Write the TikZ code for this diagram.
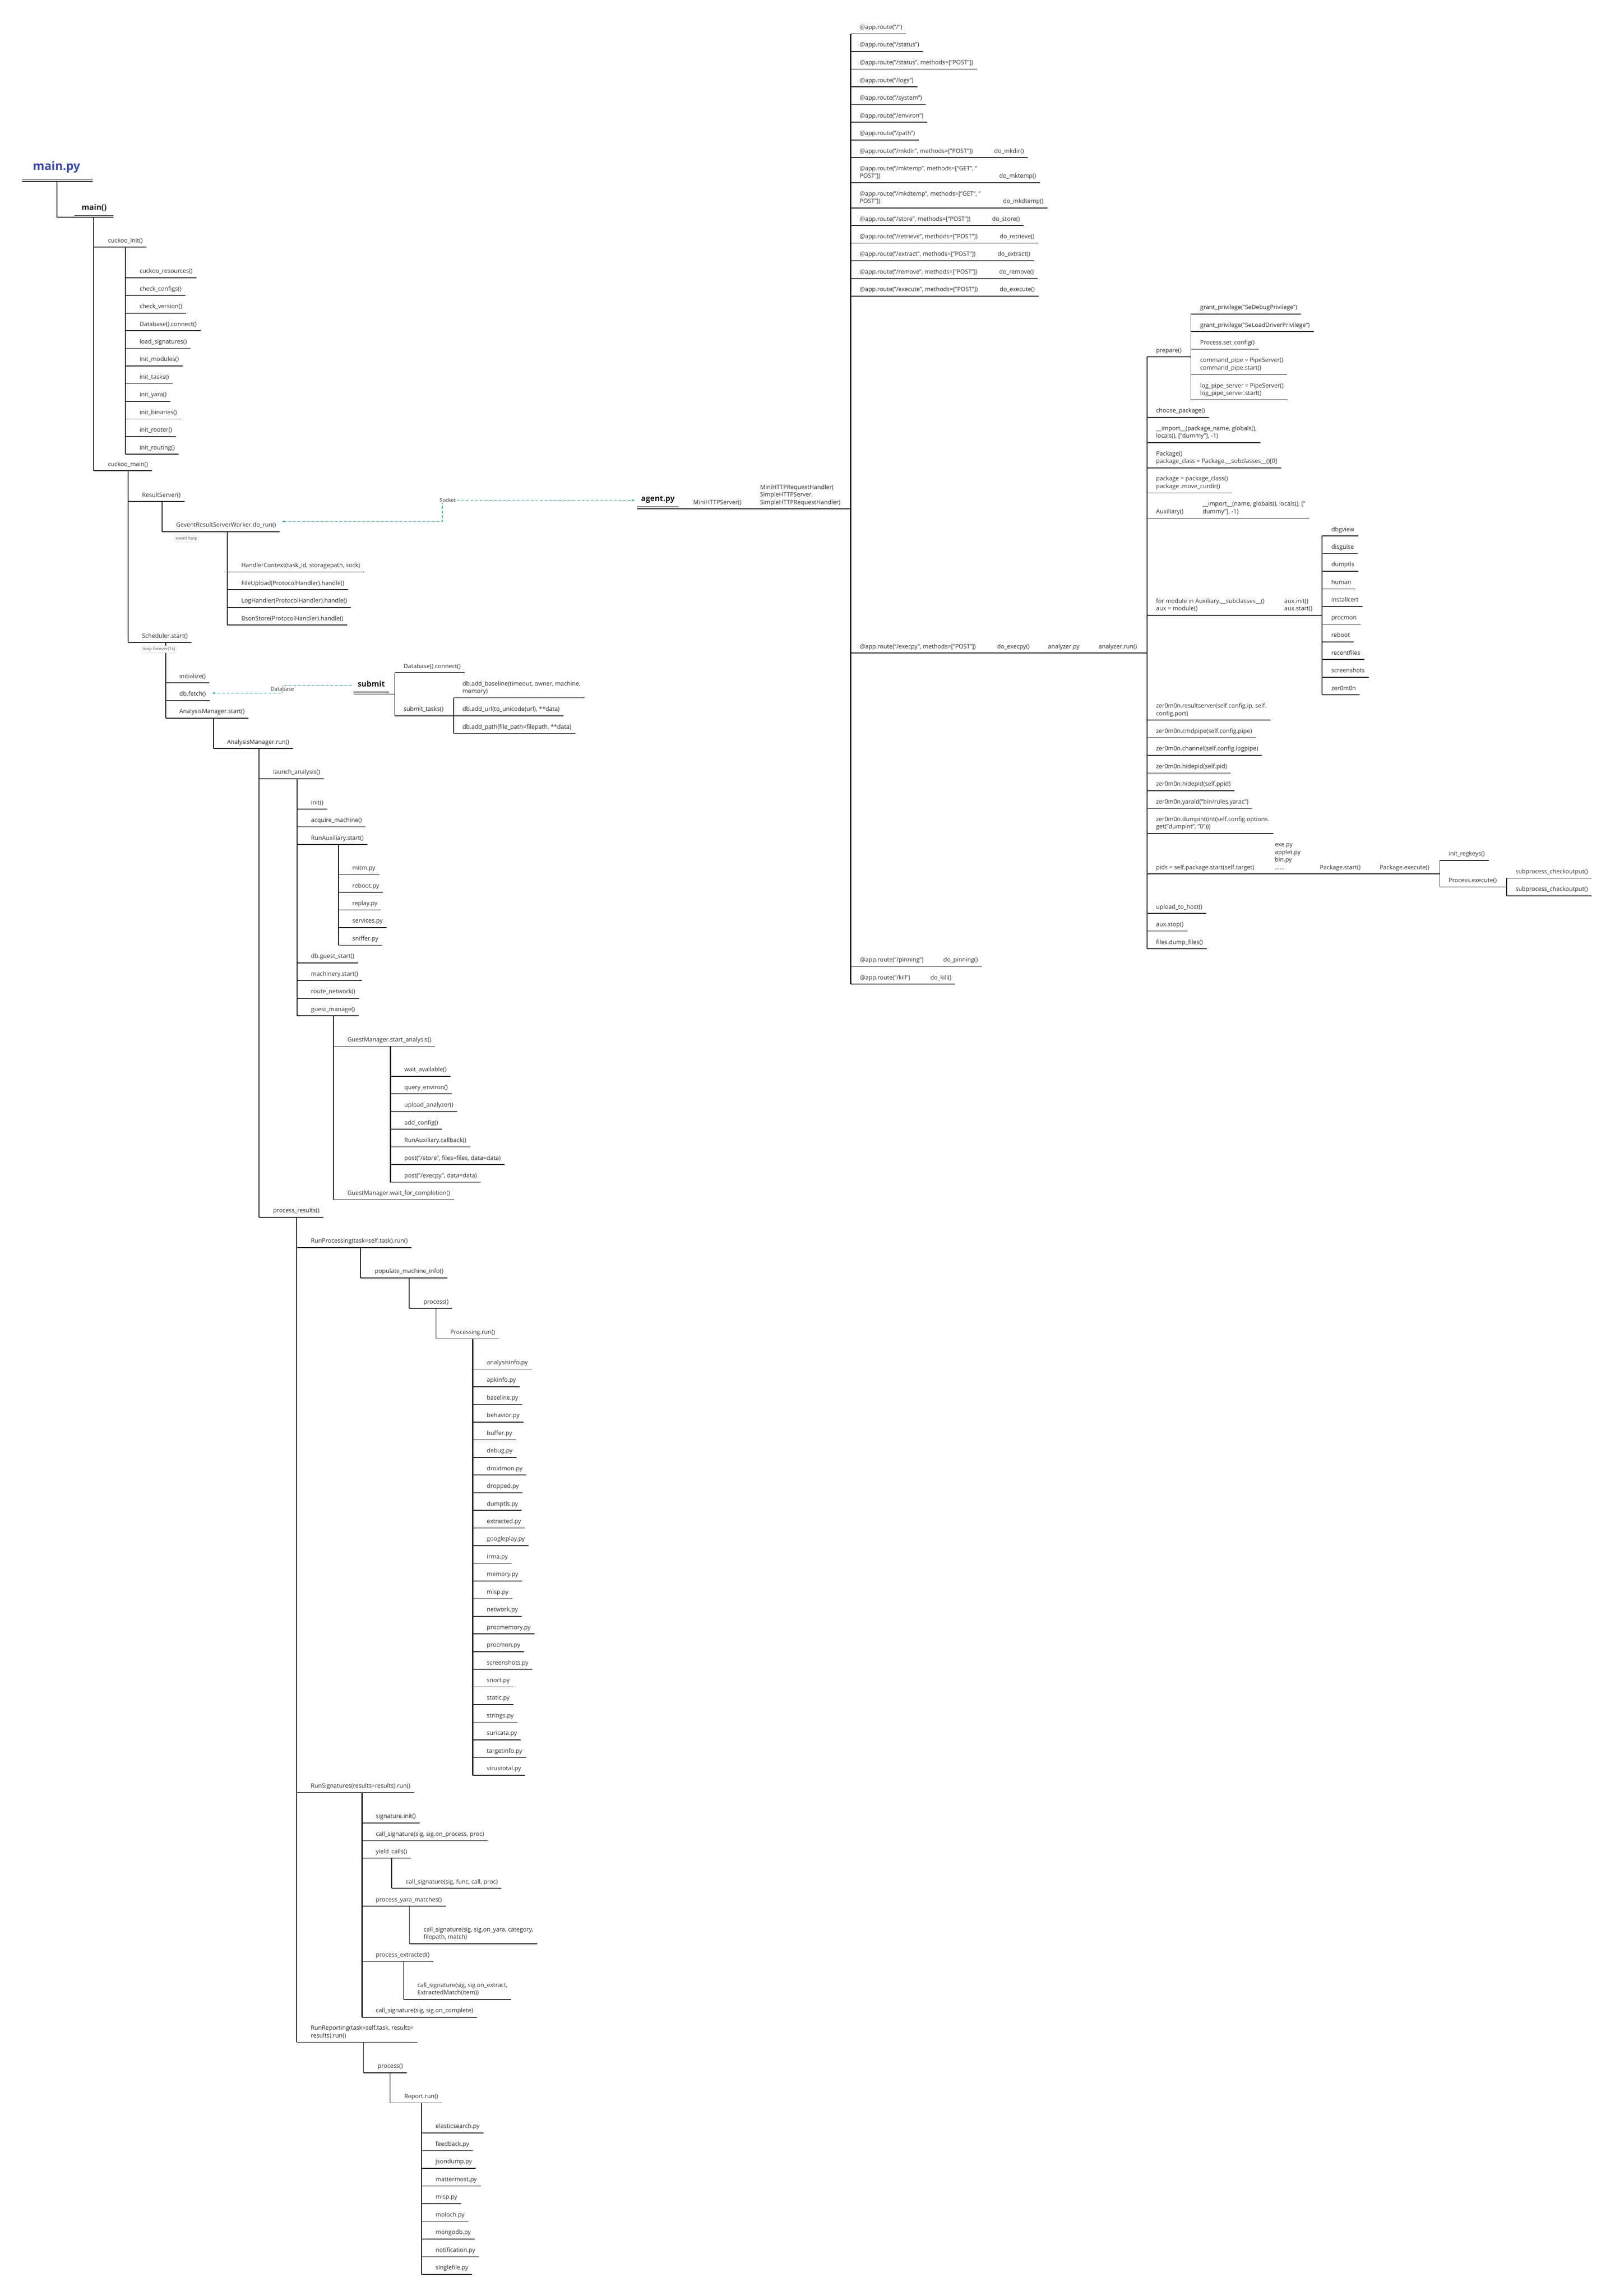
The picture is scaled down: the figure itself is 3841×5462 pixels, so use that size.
\documentclass[tikz,border=0pt]{standalone}
\usepackage{fontspec}
\setmainfont{Open Sans}
\usetikzlibrary{arrows.meta}

\definecolor{linec}{HTML}{1C1C1C}
\definecolor{textc}{HTML}{303030}
\definecolor{titleblue}{HTML}{3D4BAE}
\definecolor{linkc}{HTML}{24A092}
\definecolor{tagc}{HTML}{DADADA}

\tikzset{
  br/.style={draw=linec, line width=1.8pt},
  trunk/.style={draw=linec, line width=2.6pt},
  fn/.style={anchor=base west, inner sep=0pt, align=left, text=textc,
    font=\fontsize{14.2}{18}\selectfont},
  head/.style={anchor=base west, inner sep=0pt, text=linec,
    font=\bfseries\fontsize{18.5}{22}\selectfont},
  tag/.style={draw=tagc, fill=white, line width=0.8pt, rounded corners=4pt,
    inner sep=3pt, text=textc!85, font=\fontsize{10.5}{12}\selectfont},
  link/.style={draw=linkc, line width=1.3pt, dash pattern=on 7pt off 4pt,
    >={Stealth[length=7pt,width=5pt]}},
  linklbl/.style={fill=white, inner sep=1.5pt, text=textc,
    font=\fontsize{12.5}{14}\selectfont},
}

\begin{document}
\begin{tikzpicture}[x=1pt, y=-1pt]
\useasboundingbox (0,0) rectangle (3841,5462);

% ---------------- main.py ----------------
\node[anchor=base west, inner sep=0pt, text=titleblue,
  font=\bfseries\fontsize{28}{32}\selectfont] (mainpy) at (78,405) {main.py};
\draw[br] (52,426.5) -- (221,426.5);
\draw[br] (52,431.5) -- (221,431.5);
\draw[br] (135.5,431.5) |- (270,517);
\node[head] (main) at (194,500) {main()};
\draw[br] (177,513) -- (270,513);
\draw[br] (223,517) -- (223,1120);

% cuckoo_init()
\node[fn] (cinit) at (257,577) {cuckoo\_init()};
\draw[br] (223,588) -- (cinit.east |- 0,588) -- ++(9,0);
\draw[trunk] (298.5,588) -- (298.5,1080.7);
\foreach \t [count=\i from 0] in {cuckoo\_resources(), check\_configs(), check\_version(),
    Database().connect(), load\_signatures(), init\_modules(), init\_tasks(),
    init\_yara(), init\_binaries(), init\_rooter(), init\_routing()} {
  \pgfmathsetmacro\y{660.7+42*\i}
  \node[fn] (ci\i) at (332,\y-11) {\t};
  \draw[br] (298.5,\y) -- (ci\i.east |- 0,\y) -- ++(9,0);
}

% cuckoo_main()
\node[fn] (cmain) at (257,1109) {cuckoo\_main()};
\draw[br] (223,1120) -- (cmain.east |- 0,1120) -- ++(9,0);
\draw[br] (305,1120) -- (305,1528.6);

\node[fn] (rserver) at (337.7,1182) {ResultServer()};
\draw[br] (305,1193) -- (rserver.east |- 0,1193) -- ++(9,0);
\draw[br] (385.4,1193) -- (385.4,1264.7);
\node[fn] (gevent) at (419,1253.7) {GeventResultServerWorker.do\_run()};
\draw[br] (385.4,1264.7) -- (gevent.east |- 0,1264.7) -- ++(9,0);
\node[tag] (evloop) at (444,1281) {event loop};
\draw[br] (540.4,1264.7) -- (540.4,1487);
\foreach \t [count=\i from 0] in {{HandlerContext(task\_id, storagepath, sock)},
    FileUpload(ProtocolHandler).handle(), LogHandler(ProtocolHandler).handle(),
    BsonStore(ProtocolHandler).handle()} {
  \pgfmathsetmacro\y{1360.7+42.1*\i}
  \node[fn] (hd\i) at (574,\y-11) {\t};
  \draw[br] (540.4,\y) -- (hd\i.east |- 0,\y) -- ++(9,0);
}

% Scheduler
\node[fn] (sched) at (337.7,1517.6) {Scheduler.start()};
\draw[br] (305,1528.6) -- (sched.east |- 0,1528.6) -- ++(9,0);
\draw[br] (394,1528.6) -- (394,1708.5);
\node[tag] (loopf) at (378,1544.5) {loop forever(1s)};
\node[fn] (sinit) at (426.6,1613.5) {initialize()};
\draw[br] (394,1624.5) -- (sinit.east |- 0,1624.5) -- ++(9,0);
\node[fn] (dbfetch) at (426.6,1656) {db.fetch()};
\draw[br] (394,1667) -- (dbfetch.east |- 0,1667) -- ++(9,0);
\node[fn] (amstart) at (426.6,1697.5) {AnalysisManager.start()};
\draw[br] (394,1708.5) -- (amstart.east |- 0,1708.5) -- ++(9,0);
\draw[br] (508,1708.5) -- (508,1780.8);
\node[fn] (amrun) at (540,1769.8) {AnalysisManager.run()};
\draw[br] (508,1780.8) -- (amrun.east |- 0,1780.8) -- ++(9,0);
\draw[br] (616.3,1780.8) -- (616.3,2895.8);

% launch_analysis()
\node[fn] (launch) at (649.5,1841.6) {launch\_analysis()};
\draw[br] (616.3,1852.6) -- (launch.east |- 0,1852.6) -- ++(9,0);
\draw[trunk] (706.6,1852.6) -- (706.6,2416.6);
\foreach \t [count=\i from 0] in {init(), acquire\_machine(), RunAuxiliary.start()} {
  \pgfmathsetmacro\y{1925+42*\i}
  \node[fn] (la\i) at (739.8,\y-11) {\t};
  \draw[br] (706.6,\y) -- (la\i.east |- 0,\y) -- ++(9,0);
}
\draw[trunk] (805,2009) -- (805,2248.6);
\foreach \t [count=\i from 0] in {mitm.py, reboot.py, replay.py, services.py, sniffer.py} {
  \pgfmathsetmacro\y{2080.6+42*\i}
  \node[fn] (ax\i) at (838,\y-11) {\t};
  \draw[br] (805,\y) -- (ax\i.east |- 0,\y) -- ++(9,0);
}
\foreach \t [count=\i from 3] in {db.guest\_start(), machinery.start(), route\_network(),
    guest\_manage()} {
  \pgfmathsetmacro\y{2290.4+42.07*(\i-3)}
  \node[fn] (la\i) at (739.8,\y-11) {\t};
  \draw[br] (706.6,\y) -- (la\i.east |- 0,\y) -- ++(9,0);
}
\draw[br] (793.4,2416.6) -- (793.4,2853.7);
\node[fn] (gmstart) at (826.5,2477.9) {GuestManager.start\_analysis()};
\draw[br] (793.4,2488.9) -- (gmstart.east |- 0,2488.9) -- ++(9,0);
\draw[trunk] (929,2488.9) -- (929,2812.4);
\foreach \t [count=\i from 0] in {wait\_available(), query\_environ(), upload\_analyzer(),
    add\_config(), RunAuxiliary.callback(), {post("/store", files=files, data=data)},
    {post("/execpy", data=data)}} {
  \pgfmathsetmacro\y{2560.4+42*\i}
  \node[fn] (gm\i) at (961.7,\y-11) {\t};
  \draw[br] (929,\y) -- (gm\i.east |- 0,\y) -- ++(9,0);
}
\node[fn] (gmwait) at (826.5,2842.7) {GuestManager.wait\_for\_completion()};
\draw[br] (793.4,2853.7) -- (gmwait.east |- 0,2853.7) -- ++(9,0);

% process_results()
\node[fn] (presults) at (649.5,2884.8) {process\_results()};
\draw[br] (616.3,2895.8) -- (presults.east |- 0,2895.8) -- ++(9,0);
\draw[trunk] (705.5,2895.8) -- (705.5,4858.3);
\node[fn] (rproc) at (739.4,2956.9) {RunProcessing(task=self.task).run()};
\draw[br] (705.5,2967.9) -- (rproc.east |- 0,2967.9) -- ++(9,0);
\draw[br] (857.6,2967.9) -- (857.6,3040);
\node[fn] (pmi) at (891.5,3029) {populate\_machine\_info()};
\draw[br] (857.6,3040) -- (pmi.east |- 0,3040) -- ++(9,0);
\draw[br] (973.6,3040) -- (973.6,3112.5);
\node[fn] (pproc) at (1007.5,3101.5) {process()};
\draw[br] (973.6,3112.5) -- (pproc.east |- 0,3112.5) -- ++(9,0);
\draw[br] (1037.3,3112.5) -- (1037.3,3184.8);
\node[fn] (prun) at (1071,3173.8) {Processing.run()};
\draw[br] (1037.3,3184.8) -- (prun.east |- 0,3184.8) -- ++(9,0);
\draw[trunk] (1124.6,3184.8) -- (1124.6,4223);
\foreach \t [count=\i from 0] in {analysisinfo.py, apkinfo.py, baseline.py, behavior.py,
    buffer.py, debug.py, droidmon.py, dropped.py, dumptls.py, extracted.py, googleplay.py,
    irma.py, memory.py, misp.py, network.py, procmemory.py, procmon.py, screenshots.py,
    snort.py, static.py, strings.py, suricata.py, targetinfo.py, virustotal.py} {
  \pgfmathsetmacro\y{3257+42*\i}
  \node[fn] (pm\i) at (1158,\y-11) {\t};
  \draw[br] (1124.6,\y) -- (pm\i.east |- 0,\y) -- ++(9,0);
}

% RunSignatures
\node[fn] (rsig) at (739.3,4253.4) {RunSignatures(results=results).run()};
\draw[br] (705.5,4264.4) -- (rsig.east |- 0,4264.4) -- ++(9,0);
\draw[trunk] (861.2,4264.4) -- (861.2,4798.8);
\node[fn] (sginit) at (893.9,4325.8) {signature.init()};
\draw[br] (861.2,4336.8) -- (sginit.east |- 0,4336.8) -- ++(9,0);
\node[fn] (sgproc) at (893.9,4367.7) {call\_signature(sig, sig.on\_process, proc)};
\draw[br] (861.2,4378.7) -- (sgproc.east |- 0,4378.7) -- ++(9,0);
\node[fn] (yield) at (893.9,4409.5) {yield\_calls()};
\draw[br] (861.2,4420.5) -- (yield.east |- 0,4420.5) -- ++(9,0);
\draw[br] (932,4420.5) -- (932,4492);
\node[fn] (sgcall) at (965.3,4481) {call\_signature(sig, func, call, proc)};
\draw[br] (932,4492) -- (sgcall.east |- 0,4492) -- ++(9,0);
\node[fn] (yara) at (893.9,4523.8) {process\_yara\_matches()};
\draw[br] (861.2,4534.8) -- (yara.east |- 0,4534.8) -- ++(9,0);
\draw[br] (974,4534.8) -- (974,4624);
\node[fn] (sgyara) at (1007.6,4613) {call\_signature(sig, sig.on\_yara, category,\\filepath, match)};
\draw[br] (974,4624) -- (sgyara.east |- 0,4624) -- ++(9,0);
\node[fn] (extr) at (893.9,4655) {process\_extracted()};
\draw[br] (861.2,4666) -- (extr.east |- 0,4666) -- ++(9,0);
\draw[br] (959.7,4666) -- (959.7,4756);
\node[fn] (sgext) at (992.9,4745) {call\_signature(sig, sig.on\_extract,\\ExtractedMatch(item))};
\draw[br] (959.7,4756) -- (sgext.east |- 0,4756) -- ++(9,0);
\node[fn] (sgdone) at (893.9,4787.8) {call\_signature(sig, sig.on\_complete)};
\draw[br] (861.2,4798.8) -- (sgdone.east |- 0,4798.8) -- ++(9,0);

% RunReporting
\node[fn] (rrep) at (739.3,4847.3) {RunReporting(task=self.task, results=\\results).run()};
\draw[br] (705.5,4858.3) -- (rrep.east |- 0,4858.3) -- ++(9,0);
\draw[br] (864.8,4858.3) -- (864.8,4930.8);
\node[fn] (rpproc) at (898.5,4919.8) {process()};
\draw[br] (864.8,4930.8) -- (rpproc.east |- 0,4930.8) -- ++(9,0);
\draw[br] (928,4930.8) -- (928,5002.4);
\node[fn] (reprun) at (961.7,4991.4) {Report.run()};
\draw[br] (928,5002.4) -- (reprun.east |- 0,5002.4) -- ++(9,0);
\draw[trunk] (1003,5002.4) -- (1003,5410.5);
\foreach \t [count=\i from 0] in {elasticsearch.py, feedback.py, jsondump.py, mattermost.py,
    misp.py, moloch.py, mongodb.py, notification.py, singlefile.py} {
  \pgfmathsetmacro\y{5074+42.06*\i}
  \node[fn] (rp\i) at (1036.2,\y-11) {\t};
  \draw[br] (1003,\y) -- (rp\i.east |- 0,\y) -- ++(9,0);
}

% ---------------- submit ----------------
\node[head] (submit) at (850.5,1633.5) {submit};
\draw[br] (841,1646.4) -- (925,1646.4);
\draw[br] (841,1651) -- (939,1651);
\draw[br] (939,1600.5) -- (939,1702.7);
\node[fn] (dbconn) at (960,1589.5) {Database().connect()};
\draw[br] (939,1600.5) -- (dbconn.east |- 0,1600.5) -- ++(9,0);
\node[fn] (subtasks) at (960,1691.7) {submit\_tasks()};
\draw[br] (939,1702.7) -- (1079,1702.7);
\draw[br] (1079,1660) -- (1079,1745);
\node[fn] (addbase) at (1100,1649) {db.add\_baseline(timeout, owner, machine,\\memory)};
\draw[br] (1079,1660) -- (addbase.east |- 0,1660) -- ++(9,0);
\node[fn] (addurl) at (1100,1691.7) {db.add\_url(to\_unicode(url), **data)};
\draw[br] (1079,1702.7) -- (addurl.east |- 0,1702.7) -- ++(9,0);
\node[fn] (addpath) at (1100,1734) {db.add\_path(file\_path=filepath, **data)};
\draw[br] (1079,1745) -- (addpath.east |- 0,1745) -- ++(9,0);

% ---------------- agent.py ----------------
\node[head] (agentpy) at (1524.8,1192) {agent.py};
\draw[br] (1514.8,1205.3) -- (1614.3,1205.3);
\draw[br] (1514.8,1210.3) -- (2023.7,1210.3);
\node[fn] (mhttp) at (1649,1199.5) {MiniHTTPServer()};
\node[fn] (mhandler) at (1808,1199.5) {MiniHTTPRequestHandler(\\SimpleHTTPServer.\\SimpleHTTPRequestHandler)};

% dashed links
\draw[link,<->] ([xshift=14pt,yshift=9pt]gevent.east) -| (1052,1215)
  |- ([xshift=-15pt,yshift=-2pt]agentpy.west);
\node[linklbl] (socklbl) at (1065,1190) {Socket};
\draw[link,->] ([xshift=-14pt,yshift=-4pt]submit.west) -| (671.6,1640)
  |- ([xshift=15pt,yshift=3pt]dbfetch.east);
\node[linklbl] (dblbl) at (671.6,1639) {Database};

% routes
\draw[trunk] (2023.7,80.3) -- (2023.7,2341.3);
\foreach \t [count=\i from 0] in {{@app.route("/")}, {@app.route("/status")},
    {@app.route("/status", methods=["POST"])}, {@app.route("/logs")},
    {@app.route("/system")}, {@app.route("/environ")}, {@app.route("/path")}} {
  \pgfmathsetmacro\y{80.3+42.1*\i}
  \node[fn] (rt\i) at (2045,\y-11) {\t};
  \draw[br] (2023.7,\y) -- (rt\i.east |- 0,\y) -- ++(9,0);
}
\foreach \r/\fx/\y in {mkdir/2365/375, store/2360/536.5, retrieve/2378/578.5,
    extract/2373/620.4, remove/2377/662.9, execute/2378/704.4} {
  \node[fn] (rt\r) at (2045,\y-11) {@app.route("/\r", methods=["POST"])};
  \node[fn] (do\r) at (\fx,\y-11) {do\_\r()};
  \draw[br] (2023.7,\y) -- (do\r.east |- 0,\y) -- ++(9,0);
}
\node[fn] (rtmktemp) at (2045,423.7) {@app.route("/mktemp", methods=["GET", "\\POST"])};
\node[fn] (domktemp) at (2377,423.7) {do\_mktemp()};
\draw[br] (2023.7,434.7) -- (domktemp.east |- 0,434.7) -- ++(9,0);
\node[fn] (rtmkdtemp) at (2045,483.6) {@app.route("/mkdtemp", methods=["GET", "\\POST"])};
\node[fn] (domkdtemp) at (2386,483.6) {do\_mkdtemp()};
\draw[br] (2023.7,494.6) -- (domkdtemp.east |- 0,494.6) -- ++(9,0);

\node[fn] (rtexecpy) at (2045.5,1542.6) {@app.route("/execpy", methods=["POST"])};
\node[fn] (doexecpy) at (2372,1542.6) {do\_execpy()};
\node[fn] (anpy) at (2493,1542.6) {analyzer.py};
\node[fn] (anrun) at (2613.5,1542.6) {analyzer.run()};
\draw[br] (2023.7,1553.6) -- (2728.6,1553.6);

\node[fn] (rtpin) at (2045.7,2288) {@app.route("/pinning")};
\node[fn] (dopin) at (2244,2288) {do\_pinning()};
\draw[br] (2023.7,2299) -- (dopin.east |- 0,2299) -- ++(9,0);
\node[fn] (rtkill) at (2045.7,2330.3) {@app.route("/kill")};
\node[fn] (dokill) at (2213,2330.3) {do\_kill()};
\draw[br] (2023.7,2341.3) -- (dokill.east |- 0,2341.3) -- ++(9,0);

% ---------------- analyzer.run() ----------------
\draw[trunk] (2728.6,849) -- (2728.6,2257);
\node[fn] (prep) at (2750,838) {prepare()};
\draw[br] (2728.6,849) -- (2833,849);
\draw[br] (2833,747) -- (2833,951);
\node[fn] (gp1) at (2855,736) {grant\_privilege("SeDebugPrivilege")};
\draw[br] (2833,747) -- (gp1.east |- 0,747) -- ++(9,0);
\node[fn] (gp2) at (2855,777.9) {grant\_privilege("SeLoadDriverPrivilege")};
\draw[br] (2833,788.9) -- (gp2.east |- 0,788.9) -- ++(9,0);
\node[fn] (setcfg) at (2855,819.6) {Process.set\_config()};
\draw[br] (2833,830.6) -- (setcfg.east |- 0,830.6) -- ++(9,0);
\node[fn] (cmdpipe) at (2855,879.8) {command\_pipe = PipeServer()\\command\_pipe.start()};
\draw[br] (2833,890.8) -- (cmdpipe.east |- 0,890.8) -- ++(9,0);
\node[fn] (logpipe) at (2855,940) {log\_pipe\_server = PipeServer()\\log\_pipe\_server.start()};
\draw[br] (2833,951) -- (logpipe.east |- 0,951) -- ++(9,0);

\node[fn] (choose) at (2750,981.7) {choose\_package()};
\draw[br] (2728.6,992.7) -- (choose.east |- 0,992.7) -- ++(9,0);
\node[fn] (imppkg) at (2750,1041.8) {\_\_import\_\_(package\_name, globals(),\\locals(), ["dummy"], -1)};
\draw[br] (2728.6,1052.8) -- (imppkg.east |- 0,1052.8) -- ++(9,0);
\node[fn] (pkgcls) at (2750,1102) {Package()\\package\_class = Package.\_\_subclasses\_\_()[0]};
\draw[br] (2728.6,1113) -- (pkgcls.east |- 0,1113) -- ++(9,0);
\node[fn] (pkgnew) at (2750,1161.6) {package = package\_class()\\package .move\_curdir()};
\draw[br] (2728.6,1172.6) -- (pkgnew.east |- 0,1172.6) -- ++(9,0);
\node[fn] (auxcls) at (2750,1221.8) {Auxiliary()};
\node[fn] (impaux) at (2861,1221.8) {\_\_import\_\_(name, globals(), locals(), ["\\dummy"], -1)};
\draw[br] (2728.6,1232.8) -- (impaux.east |- 0,1232.8) -- ++(9,0);

\node[fn] (formod) at (2750,1452.7) {for module in Auxiliary.\_\_subclasses\_\_()\\aux = module()};
\node[fn] (auxinit) at (3055,1452.7) {aux.init()\\aux.start()};
\draw[br] (2728.6,1463.7) -- (3145,1463.7);
\draw[trunk] (3145,1275) -- (3145,1653);
\foreach \t [count=\i from 0] in {dbgview, disguise, dumptls, human, installcert, procmon,
    reboot, recentfiles, screenshots, zer0m0n} {
  \pgfmathsetmacro\y{1275+42*\i}
  \node[fn] (aux\i) at (3167,\y-11) {\t};
  \draw[br] (3145,\y) -- (aux\i.east |- 0,\y) -- ++(9,0);
}

\node[fn] (zrs) at (2750,1702) {zer0m0n.resultserver(self.config.ip, self.\\config.port)};
\draw[br] (2728.6,1713) -- (zrs.east |- 0,1713) -- ++(9,0);
\foreach \t [count=\i from 0] in {zer0m0n.cmdpipe(self.config.pipe),
    zer0m0n.channel(self.config.logpipe), zer0m0n.hidepid(self.pid),
    zer0m0n.hidepid(self.ppid), {zer0m0n.yarald("bin/rules.yarac")}} {
  \pgfmathsetmacro\y{1755+42*\i}
  \node[fn] (zm\i) at (2750,\y-11) {\t};
  \draw[br] (2728.6,\y) -- (zm\i.east |- 0,\y) -- ++(9,0);
}
\node[fn] (zdump) at (2750,1971.6) {zer0m0n.dumpint(int(self.config.options.\\get("dumpint", "0")))};
\draw[br] (2728.6,1982.6) -- (zdump.east |- 0,1982.6) -- ++(9,0);

\node[fn] (pids) at (2750,2068) {pids = self.package.start(self.target)};
\node[fn] (pkgs) at (3032.6,2068) {exe.py\\applet.py\\bin.py\\......};
\node[fn] (pkgstart) at (3139.6,2068) {Package.start()};
\node[fn] (pkgexec) at (3282,2068) {Package.execute()};
\draw[br] (2728.6,2079) -- (3425,2079);
\draw[br] (3425,2047) -- (3425,2110);
\node[fn] (regkeys) at (3446,2036) {init\_regkeys()};
\draw[br] (3425,2047) -- (regkeys.east |- 0,2047) -- ++(9,0);
\node[fn] (procexec) at (3446,2099) {Process.execute()};
\draw[br] (3425,2110) -- (3584,2110);
\draw[br] (3584,2089) -- (3584,2131);
\node[fn] (chk1) at (3605,2078) {subprocess\_checkoutput()};
\draw[br] (3584,2089) -- (chk1.east |- 0,2089) -- ++(9,0);
\node[fn] (chk2) at (3605,2120) {subprocess\_checkoutput()};
\draw[br] (3584,2131) -- (chk2.east |- 0,2131) -- ++(9,0);

\node[fn] (upload) at (2750,2162) {upload\_to\_host()};
\draw[br] (2728.6,2173) -- (upload.east |- 0,2173) -- ++(9,0);
\node[fn] (auxstop) at (2750,2204) {aux.stop()};
\draw[br] (2728.6,2215) -- (auxstop.east |- 0,2215) -- ++(9,0);
\node[fn] (dumpf) at (2750,2246) {files.dump\_files()};
\draw[br] (2728.6,2257) -- (dumpf.east |- 0,2257) -- ++(9,0);
\end{tikzpicture}
\end{document}
